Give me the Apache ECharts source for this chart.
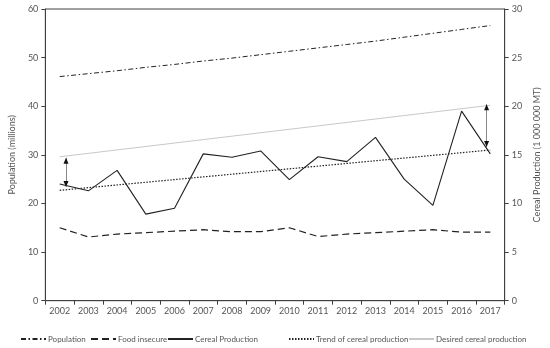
<!DOCTYPE html>
<html><head><meta charset="utf-8">
<script src="https://cdn.jsdelivr.net/npm/echarts@6/dist/echarts.min.js"></script>
<style>html,body{margin:0;padding:0;background:#fff}#c{width:550px;height:348px}</style>
</head><body><div id="c"></div>
<script>
var years = ['2002','2003','2004','2005','2006','2007','2008','2009','2010','2011','2012','2013','2014','2015','2016','2017'];
var population = [46.1,46.7,47.3,48.0,48.6,49.3,49.9,50.6,51.3,52.0,52.7,53.4,54.2,55.0,55.8,56.6];
var foodInsecure = [15.0,13.1,13.7,14.0,14.3,14.6,14.2,14.2,15.0,13.2,13.7,14.0,14.3,14.6,14.1,14.1];
var cereal = [12.0,11.3,13.4,8.9,9.5,15.1,14.75,15.4,12.45,14.8,14.3,16.8,12.5,9.8,19.5,15.1];
var trend = [11.35,null,null,null,null,null,null,null,null,null,null,null,null,null,null,15.5];
var desired = [14.8,null,null,null,null,null,null,null,null,null,null,null,null,null,null,20.1];
var gapArrows = [[0.22,14.7,11.7],[14.87,20.2,15.8]]; // [x index, top, bottom]
var leftTicks = {min:0,max:60,interval:10};
var rightTicks = {min:0,max:30,interval:5};

var FONT = 'Lato';
var TXT = '#555';
var AX = '#404040';
var chart = echarts.init(document.getElementById('c'));

var arrowLines = gapArrows.map(function(a){return [{coord:[a[0],a[1]]},{coord:[a[0],a[2]]}];});
var arrowHeads = [];
gapArrows.forEach(function(a){
  arrowHeads.push({coord:[a[0],a[1]],symbolRotate:0,symbolOffset:[0,3]});
  arrowHeads.push({coord:[a[0],a[2]],symbolRotate:180,symbolOffset:[0,-3]});
});

function leg(name,left){
  return {data:[name],left:left,top:335,itemWidth:25,itemHeight:10,itemGap:0,padding:0,
    itemStyle:{opacity:0},
    textStyle:{fontFamily:FONT,fontSize:8,color:TXT,padding:[0,0,0,-3]}};
}

chart.setOption({
  animation:false,
  textStyle:{fontFamily:FONT},
  grid:{left:33.5,right:34.5,top:9,bottom:47.3,show:true,borderColor:AX,borderWidth:1,backgroundColor:'transparent'},
  legend:[leg('Population',20),leg('Food insecure',90),leg('Cereal Production',167),leg('Trend of cereal production',288),leg('Desired cereal production',408)],
  xAxis:[{type:'category',data:years,boundaryGap:true,
    axisLine:{lineStyle:{color:AX}},axisTick:{show:true,length:4,lineStyle:{color:AX},alignWithLabel:false},
    axisLabel:{color:TXT,fontSize:9,fontFamily:FONT,margin:6}},
    {type:'value',min:-0.5,max:15.5,show:false}],
  yAxis:[{type:'value',min:leftTicks.min,max:leftTicks.max,interval:leftTicks.interval,
    name:'Population (millions)',nameLocation:'middle',nameGap:22,nameRotate:90,
    nameTextStyle:{color:TXT,fontSize:9,fontFamily:FONT},
    axisLine:{show:true,onZero:false,lineStyle:{color:AX}},axisTick:{show:true,length:4,lineStyle:{color:AX}},
    axisLabel:{color:TXT,fontSize:9,fontFamily:FONT,margin:7},splitLine:{show:false}},
    {type:'value',position:'right',min:rightTicks.min,max:rightTicks.max,interval:rightTicks.interval,
    name:'Cereal Production (1 000 000 MT)',nameLocation:'middle',nameGap:24,nameRotate:90,
    nameTextStyle:{color:TXT,fontSize:9,fontFamily:FONT},
    axisLine:{show:true,onZero:false,lineStyle:{color:AX}},axisTick:{show:true,length:4,lineStyle:{color:AX}},
    axisLabel:{color:TXT,fontSize:9,fontFamily:FONT,margin:7},splitLine:{show:false}}],
  series:[
    {name:'Population',type:'line',data:population,yAxisIndex:0,symbol:'none',
      lineStyle:{color:'#222',width:1,type:[5,2.5,1.5,2.5]},itemStyle:{color:'#222'}},
    {name:'Food insecure',type:'line',data:foodInsecure,yAxisIndex:0,symbol:'none',
      lineStyle:{color:'#222',width:1.2,type:[7,4]},itemStyle:{color:'#222'}},
    {name:'Cereal Production',type:'line',data:cereal,yAxisIndex:1,symbol:'none',
      lineStyle:{color:'#222',width:1.1,type:'solid'},itemStyle:{color:'#222'}},
    {name:'Trend of cereal production',type:'line',data:trend,yAxisIndex:1,symbol:'none',connectNulls:true,
      lineStyle:{color:'#222',width:1.2,type:[1.5,1.5]},itemStyle:{color:'#222'}},
    {name:'Desired cereal production',type:'line',data:desired,yAxisIndex:1,symbol:'none',connectNulls:true,
      lineStyle:{color:'#c8c8c8',width:1,type:'solid'},itemStyle:{color:'#c8c8c8'}},
    {type:'line',xAxisIndex:1,yAxisIndex:1,data:[],silent:true,
      markLine:{silent:true,symbol:['none','none'],label:{show:false},
        lineStyle:{color:'#888',width:1,type:'solid'},data:arrowLines},
      markPoint:{silent:true,symbol:'triangle',symbolSize:[5,6],itemStyle:{color:'#111'},label:{show:false},data:arrowHeads}}
  ]
});
</script></body></html>
